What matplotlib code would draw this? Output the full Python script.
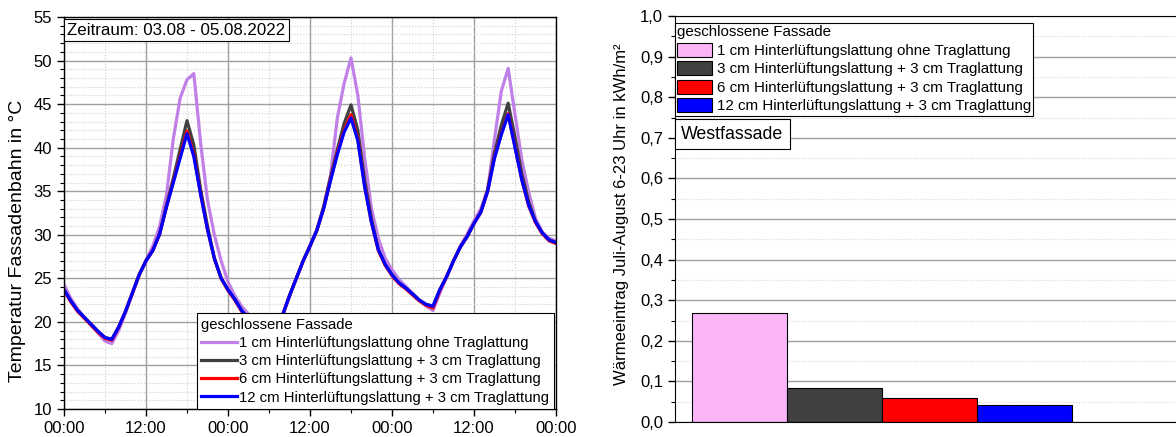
import matplotlib.pyplot as plt
from matplotlib.ticker import MultipleLocator
from matplotlib.patches import Patch

plt.rcParams['font.family'] = ['Liberation Sans', 'DejaVu Sans']

# Stundenwerte 03.08. 00:00 bis 06.08. 00:00
hours = list(range(73))

t_1cm = [24.3, 22.7, 21.5, 20.5, 19.6, 18.7, 17.8, 17.5, 19.0, 21.0, 23.2, 25.3,
         27.1, 28.7, 31.0, 34.6, 41.0, 45.7, 47.8, 48.5, 40.5, 34.0, 30.0, 27.0,
         24.6, 23.0, 21.8, 20.9, 20.2, 19.6, 19.2, 19.5, 20.8, 23.0, 25.0, 27.0,
         28.8, 30.6, 33.3, 36.8, 43.4, 47.4, 50.3, 46.0, 38.8, 33.0, 29.6, 27.3,
         26.0, 24.9, 24.1, 23.3, 22.5, 21.8, 21.3, 23.3, 25.2, 27.0, 28.7, 30.1,
         31.6, 33.0, 35.2, 41.0, 46.5, 49.1, 43.8, 38.6, 34.9, 31.9, 30.3, 29.6,
         29.3]
t_3cm = [23.7, 22.4, 21.3, 20.5, 19.7, 18.9, 18.2, 18.0, 19.4, 21.2, 23.3, 25.4,
         27.0, 28.2, 30.1, 33.4, 36.5, 39.8, 43.1, 40.3, 35.2, 31.0, 27.3, 25.0,
         23.7, 22.6, 21.3, 20.4, 19.8, 19.3, 19.0, 19.6, 20.8, 23.0, 25.0, 27.0,
         28.7, 30.5, 33.2, 36.6, 39.8, 42.8, 44.9, 42.0, 36.3, 31.8, 28.3, 26.6,
         25.4, 24.5, 23.9, 23.2, 22.5, 22.0, 21.8, 23.7, 25.2, 27.0, 28.6, 29.8,
         31.3, 32.6, 35.2, 39.4, 42.6, 45.1, 41.2, 37.0, 33.8, 31.5, 30.2, 29.4,
         29.1]
t_6cm = [23.6, 22.3, 21.2, 20.4, 19.6, 18.8, 18.1, 17.9, 19.4, 21.2, 23.3, 25.4,
         27.0, 28.2, 30.1, 33.2, 36.1, 39.0, 41.9, 39.2, 34.7, 30.6, 27.3, 25.0,
         23.6, 22.5, 21.2, 20.3, 19.7, 19.2, 18.9, 19.5, 20.8, 23.0, 25.0, 27.0,
         28.7, 30.5, 33.0, 36.3, 39.4, 42.0, 43.8, 41.0, 35.6, 31.4, 28.2, 26.5,
         25.3, 24.4, 23.8, 23.1, 22.4, 21.9, 21.6, 23.6, 25.2, 27.0, 28.6, 29.8,
         31.3, 32.6, 35.0, 38.9, 41.6, 43.9, 40.1, 36.3, 33.3, 31.4, 30.1, 29.3,
         29.0]
t_12cm = [23.7, 22.4, 21.3, 20.5, 19.7, 18.9, 18.2, 18.0, 19.4, 21.2, 23.3, 25.4,
          27.0, 28.2, 30.1, 33.2, 36.0, 38.8, 41.6, 39.0, 34.6, 30.6, 27.3, 25.0,
          23.7, 22.6, 21.3, 20.4, 19.8, 19.3, 19.0, 19.6, 20.8, 23.0, 25.0, 27.0,
          28.7, 30.5, 33.0, 36.2, 39.2, 41.8, 43.4, 40.8, 35.5, 31.4, 28.3, 26.6,
          25.4, 24.5, 23.9, 23.2, 22.5, 22.0, 21.8, 23.7, 25.2, 27.0, 28.6, 29.8,
          31.3, 32.6, 35.0, 38.8, 41.5, 43.8, 40.0, 36.3, 33.4, 31.5, 30.2, 29.4,
          29.1]

variants = ['1 cm Hinterlüftungslattung ohne Traglattung',
            '3 cm Hinterlüftungslattung + 3 cm Traglattung',
            '6 cm Hinterlüftungslattung + 3 cm Traglattung',
            '12 cm Hinterlüftungslattung + 3 cm Traglattung']
line_colors = ['#c080e8', '#404040', '#ff0000', '#0000ff']
bar_colors = ['#fbb6f8', '#404040', '#ff0000', '#0000ff']

# Wärmeeintrag Juli-August 6-23 Uhr in kWh/m²
heat_gain = [0.268, 0.085, 0.060, 0.042]

time_labels = ['00:00', '12:00', '00:00', '12:00', '00:00', '12:00', '00:00']

fig = plt.figure(figsize=(11.76, 4.37), dpi=100)

# --- Temperaturverlauf ---
ax1 = fig.add_axes([0.0544, 0.0641, 0.4184, 0.897])
for series, col, lab in zip([t_1cm, t_3cm, t_6cm, t_12cm], line_colors, variants):
    ax1.plot(hours, series, color=col, lw=2.3, label=lab)

ax1.set_xlim(0, 72)
ax1.set_ylim(10, 55)
ax1.set_xticks(range(0, 73, 12))
ax1.set_xticklabels(time_labels)
ax1.xaxis.set_minor_locator(MultipleLocator(6))
ax1.yaxis.set_major_locator(MultipleLocator(5))
ax1.yaxis.set_minor_locator(MultipleLocator(1))
ax1.tick_params(which='major', direction='out', length=5, width=1, labelsize=12)
ax1.tick_params(which='minor', direction='out', length=3, width=0.8)
ax1.grid(which='major', color='#a0a0a0', lw=1)
ax1.grid(which='minor', color='#cfcfcf', lw=0.8, ls=':')
ax1.set_axisbelow(True)
ax1.set_ylabel('Temperatur Fassadenbahn in °C', fontsize=14, labelpad=3)
ax1.yaxis.set_label_coords(-0.077, 0.43)
for sp in ax1.spines.values():
    sp.set_linewidth(1)

ax1.text(0.006, 0.985, 'Zeitraum: 03.08 - 05.08.2022', transform=ax1.transAxes,
         ha='left', va='top', fontsize=12.2,
         bbox=dict(boxstyle='square,pad=0.2', fc='white', ec='black', lw=0.8))

leg1 = ax1.legend(loc='lower right', bbox_to_anchor=(0.995, 0.0), borderaxespad=0,
                  title='geschlossene Fassade', title_fontsize=10.7, fontsize=10.7,
                  frameon=True, fancybox=False, framealpha=1, edgecolor='black',
                  handlelength=2.4, handletextpad=0.15, labelspacing=0.28,
                  borderpad=0.3)
leg1._legend_box.align = 'left'
leg1.get_frame().set_linewidth(0.8)

# --- Wärmeeintrag ---
ax2 = fig.add_axes([0.574, 0.0343, 0.426, 0.929])
ax2.bar(range(1, 5), heat_gain, width=1.0, color=bar_colors, edgecolor='black',
        lw=0.8)
ax2.set_xlim(0.32, 5.6)
ax2.set_ylim(0, 1.0)
ax2.set_xticks([])
ax2.yaxis.set_major_locator(MultipleLocator(0.1))
ax2.yaxis.set_minor_locator(MultipleLocator(0.05))
ax2.yaxis.set_major_formatter(plt.FuncFormatter(lambda v, p: f'{v:.1f}'.replace('.', ',')))
ax2.tick_params(which='major', direction='out', length=5, width=1, labelsize=12)
ax2.tick_params(which='minor', direction='out', length=3, width=0.8)
ax2.grid(axis='y', which='major', color='#a0a0a0', lw=1)
ax2.grid(axis='y', which='minor', color='#d5d5d5', lw=0.8, ls=':')
ax2.set_axisbelow(True)
ax2.spines['right'].set_visible(False)
ax2.set_ylabel('Wärmeeintrag Juli-August 6-23 Uhr in kWh/m²', fontsize=12, labelpad=3)
ax2.yaxis.set_label_coords(-0.092, 0.512)

handles = [Patch(facecolor=c, edgecolor='black', lw=0.8) for c in bar_colors]
leg2 = ax2.legend(handles, variants, loc='upper left', bbox_to_anchor=(0.0, 0.983),
                  borderaxespad=0, title='geschlossene Fassade', title_fontsize=10.9,
                  fontsize=10.9, frameon=True, fancybox=False, framealpha=1,
                  edgecolor='black', handlelength=2.3, handleheight=1.05,
                  handletextpad=0.3, labelspacing=0.22, borderpad=0.15)
leg2._legend_box.align = 'left'
leg2.get_frame().set_linewidth(0.8)

ax2.text(0.012, 0.709, 'Westfassade', transform=ax2.transAxes, ha='left', va='center',
         fontsize=12.8,
         bbox=dict(boxstyle='square,pad=0.35', fc='white', ec='black', lw=0.8))

fig.savefig('out.png', dpi=100)
